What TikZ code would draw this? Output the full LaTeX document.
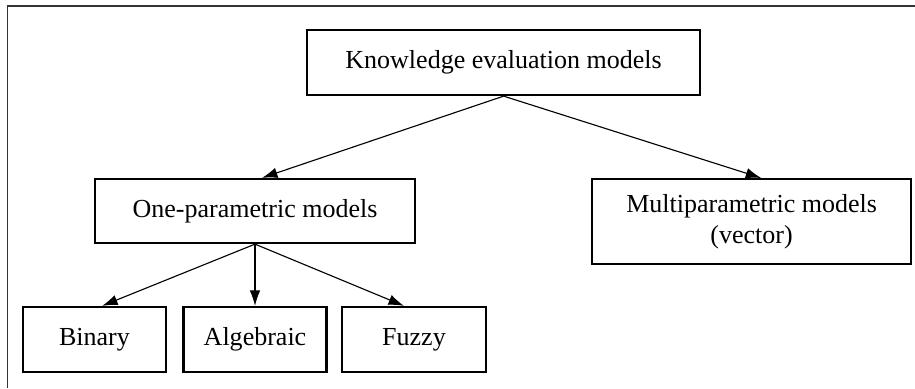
\documentclass[tikz,border=0pt]{standalone}
\usepackage{fontspec}
\setmainfont{Liberation Serif}
\usetikzlibrary{arrows.meta}

\begin{document}
\begin{tikzpicture}[
    model/.style = {draw, line width = 1.6pt, minimum height = 1.625cm,
      align = center, font = \fontsize{18.5}{22}\selectfont},
    link/.style = {-{Latex[length = 11pt, width = 7.5pt]}, line width = 0.8pt}
  ]
    \useasboundingbox (0, 0) rectangle (22.875, -9.7);
    \draw[black!80, line width = 1pt] (0.1875, -9.7) -- (0.1875, -0.15) -- (22.875, -0.15);
    \node[model, minimum width = 9.825cm] (Knowledge) at (12.59, -1.5625) {Knowledge evaluation models};
    \node[model, minimum width = 8cm, minimum height = 1.6cm] (One) at (6.375, -5.275) {One-parametric models};
    \node[model, minimum width = 7.975cm, minimum height = 2.125cm] (Multi) at (18.79, -5.54) {Multiparametric models\\(vector)};
    \node[model, minimum width = 3.575cm] (Binary) at (2.3625, -8.4875) {Binary};
    \node[model, minimum width = 3.575cm] (Algebraic) at (6.375, -8.4875) {Algebraic};
    \node[model, minimum width = 3.6cm] (Fuzzy) at (10.35, -8.4875) {Fuzzy};
    \draw[link] (Knowledge.south) -- ([xshift = 0.175cm]One.north);
    \draw[link] (Knowledge.south) -- ([xshift = 0.24cm]Multi.north);
    \draw[link] (One.south) -- ([xshift = 0.19cm]Binary.north);
    \draw[link] (One.south) -- (Algebraic.north);
    \draw[link] (One.south) -- ([xshift = -0.25cm]Fuzzy.north);
  \end{tikzpicture}
\end{document}
